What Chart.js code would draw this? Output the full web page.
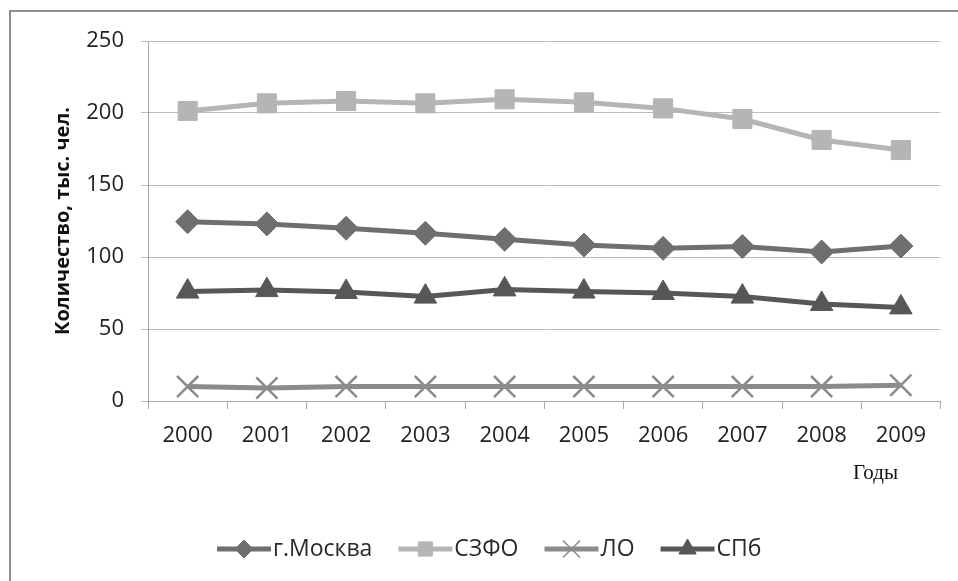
<!DOCTYPE html>
<html>
<head>
<meta charset="utf-8">
<script src="https://cdn.jsdelivr.net/npm/chart.js@4"></script>
<style>
  html, body { margin: 0; padding: 0; background: #fff; }
  #wrap { position: relative; width: 958px; height: 581px; overflow: hidden; }
  #frame { position: absolute; left: 9px; top: 10px; width: 960px; height: 600px; border: 2px solid #8e8e8e; }
  #c { position: absolute; left: 0; top: 0; }
</style>
</head>
<body>
<div id="wrap">
  <div id="frame"></div>
  <canvas id="c" width="958" height="581"></canvas>
</div>
<script>
var years = ['2000', '2001', '2002', '2003', '2004', '2005', '2006', '2007', '2008', '2009'];
var moscow = [124.5, 123, 120, 116.5, 112.3, 108.3, 106, 107.3, 103.5, 107.6];
var szfo = [201.4, 206.7, 208.3, 206.7, 209.5, 207.4, 203.2, 195.8, 181.3, 174.3];
var lo = [10, 9, 10, 10, 10, 10, 10, 10, 10, 11];
var spb = [76, 77, 75.7, 72.5, 77.5, 76, 75, 72.5, 67.4, 65];
var yTicks = [0, 50, 100, 150, 200, 250];

var yTitle = 'Количество, тыс. чел.';
var xTitle = 'Годы';

var tickFont = { family: 'Open Sans', size: 22 };

// legend drawn by hand: line sample with the marker on it
var customLegend = {
    id: 'customLegend',
    afterDraw: function (chart) {
        var ctx = chart.ctx;
        var y = 549;
        var x = 217;
        ctx.save();
        ctx.font = '23px "Open Sans"';
        ctx.textBaseline = 'middle';
        chart.data.datasets.forEach(function (ds) {
            ctx.strokeStyle = ds.borderColor;
            ctx.lineWidth = 5;
            ctx.beginPath();
            ctx.moveTo(x, y);
            ctx.lineTo(x + 54, y);
            ctx.stroke();
            ctx.fillStyle = ds.pointBackgroundColor;
            ctx.strokeStyle = ds.pointBorderColor;
            ctx.lineWidth = ds.legendBorder;
            Chart.helpers.drawPoint(ctx, {
                pointStyle: ds.pointStyle,
                radius: ds.legendRadius,
                borderWidth: ds.legendBorder,
                rotation: 0
            }, x + 27, y);
            ctx.fillStyle = '#2a2a2a';
            ctx.fillText(ds.label, x + 56, y);
            x += 56 + ctx.measureText(ds.label).width + 26;
        });
        // axis title "Годы"
        ctx.font = '21px "Liberation Serif"';
        ctx.textAlign = 'center';
        ctx.fillStyle = '#111';
        ctx.fillText(xTitle, chart.chartArea.right - 65, 473);
        ctx.restore();
    }
};

var ctx = document.getElementById('c').getContext('2d');

var myChart = new Chart(ctx, {
    type: 'line',
    data: {
        labels: years,
        datasets: [{
            label: 'г.Москва',
            data: moscow,
            borderColor: '#6f6f6f',
            backgroundColor: '#6f6f6f',
            pointBackgroundColor: '#6f6f6f',
            pointBorderColor: '#6f6f6f',
            borderWidth: 5,
            pointStyle: 'rectRot',
            pointRadius: 12,
            pointBorderWidth: 1,
            legendRadius: 9,
            legendBorder: 1
        }, {
            label: 'СЗФО',
            data: szfo,
            borderColor: '#b5b5b5',
            backgroundColor: '#b5b5b5',
            pointBackgroundColor: '#b5b5b5',
            pointBorderColor: '#b5b5b5',
            borderWidth: 5,
            pointStyle: 'rect',
            pointRadius: 13.5,
            pointBorderWidth: 1,
            legendRadius: 10,
            legendBorder: 1
        }, {
            label: 'ЛО',
            data: lo,
            borderColor: '#8b8b8b',
            backgroundColor: '#8b8b8b',
            pointBackgroundColor: '#8b8b8b',
            pointBorderColor: '#8b8b8b',
            borderWidth: 5,
            pointStyle: 'crossRot',
            pointRadius: 15,
            pointBorderWidth: 2.5,
            legendRadius: 12,
            legendBorder: 1.5
        }, {
            label: 'СПб',
            data: spb,
            borderColor: '#575757',
            backgroundColor: '#575757',
            pointBackgroundColor: '#575757',
            pointBorderColor: '#575757',
            borderWidth: 5,
            pointStyle: 'triangle',
            pointRadius: 13,
            pointBorderWidth: 1,
            legendRadius: 10,
            legendBorder: 1
        }]
    },
    options: {
        responsive: false,
        animation: false,
        layout: { padding: { top: 41, right: 16, left: 0, bottom: 0 } },
        plugins: {
            legend: { display: false },
            tooltip: { enabled: false }
        },
        elements: { line: { tension: 0 } },
        scales: {
            x: {
                offset: true,
                grid: { offset: true, drawOnChartArea: false, color: '#a8a8a8', tickLength: 8 },
                border: { color: '#a8a8a8' },
                ticks: { color: '#222', font: tickFont, padding: 14, maxRotation: 0 },
                afterFit: function (scale) { scale.height = 180; }
            },
            y: {
                min: 0,
                max: 250,
                afterBuildTicks: function (scale) {
                    scale.ticks = yTicks.map(function (v) { return { value: v }; });
                },
                grid: { color: '#bdbdbd', tickLength: 7 },
                border: { color: '#a8a8a8' },
                ticks: { color: '#222', font: tickFont, padding: 17 },
                title: {
                    display: true,
                    text: yTitle,
                    color: '#111',
                    font: { family: 'Open Sans', size: 20, weight: 'bold' },
                    padding: { top: 51, bottom: 0 }
                },
                afterFit: function (scale) { scale.width = 148; }
            }
        }
    },
    plugins: [customLegend]
});
</script>
</body>
</html>
